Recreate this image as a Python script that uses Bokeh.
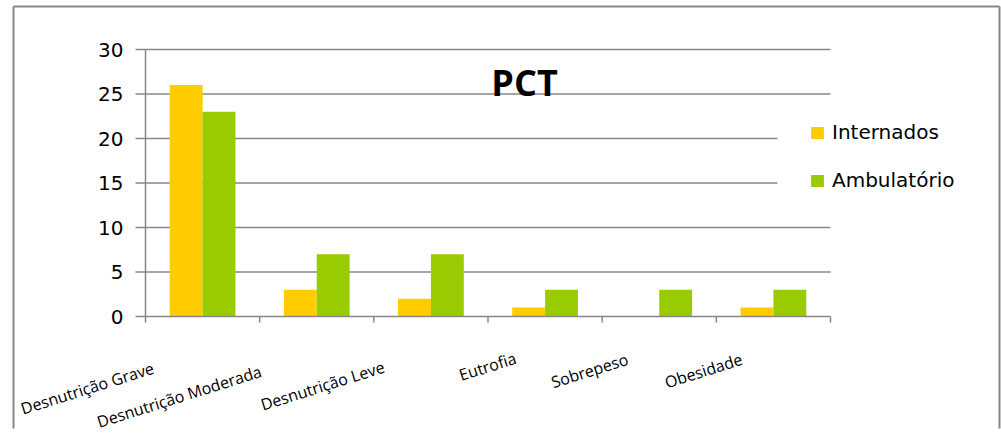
import math

from bokeh.core.properties import value
from bokeh.embed import file_html
from bokeh.models import (BoxAnnotation, ColumnDataSource, Label, LabelSet,
                          Legend, LegendItem, Range1d)
from bokeh.plotting import figure
from bokeh.resources import INLINE

# --- data -------------------------------------------------------------------
categories = ["Desnutrição Grave", "Desnutrição Moderada", "Desnutrição Leve",
              "Eutrofia", "Sobrepeso", "Obesidade"]
internados = [26, 3, 2, 1, 0, 1]
ambulatorio = [23, 7, 7, 3, 3, 3]
series_names = ["Internados", "Ambulatório"]
y_ticks = [0, 5, 10, 15, 20, 25, 30]
chart_title = "PCT"

# --- layout & styling ---------------------------------------------------------
W, H = 1001, 438
PLOT_L, PLOT_R, PLOT_T, PLOT_B = 145, 830, 49, 316   # plotting area in pixels
FONT = "Open Sans"
NUM_FONT = "DejaVu Sans"
GREY = "#878787"
YELLOW = "#FFCC00"
GREEN = "#99CC00"
BAR_W = 0.288

n = len(categories)
y_max = y_ticks[-1]
px_x = (PLOT_R - PLOT_L) / n          # pixels per category
px_y = (PLOT_B - PLOT_T) / y_max      # pixels per value unit


def cx(px):
    """canvas pixel column -> x data value"""
    return (px - PLOT_L) / px_x


def cy(py):
    """canvas pixel row -> y data value"""
    return (PLOT_B - py) / px_y


# the frame spans the whole canvas; ranges place the plotting area inside it
x_range = Range1d(cx(0), cx(W))
y_range = Range1d(cy(H), cy(0))

p = figure(width=W, height=H, x_range=x_range, y_range=y_range,
           output_backend="svg", toolbar_location=None, title=None,
           x_axis_location=None, y_axis_location=None, min_border=0)
p.outline_line_color = None
p.grid.visible = False
p.background_fill_color = "white"
p.border_fill_color = "white"

centers = [i + 0.5 for i in range(n)]

# outer chart frame: left, top and right sides
fl, fr, ft, fb = cx(13), cx(999), cy(6), cy(H - 10)
p.segment(x0=[fl, fl, fr], y0=[fb, ft, ft], x1=[fl, fr, fr], y1=[ft, ft, fb],
          line_color=GREY, line_width=2)

# horizontal gridlines
grid_vals = [t for t in y_ticks if t > 0]
p.segment(x0=[0] * len(grid_vals), x1=[n] * len(grid_vals),
          y0=grid_vals, y1=grid_vals, line_color=GREY, line_width=1.5)

# bars
src = ColumnDataSource(dict(
    x_int=[c - BAR_W / 2 for c in centers],
    x_amb=[c + BAR_W / 2 for c in centers],
    internados=internados,
    ambulatorio=ambulatorio,
))
r_int = p.vbar(x="x_int", top="internados", width=BAR_W, source=src,
               fill_color=YELLOW, line_color=None)
r_amb = p.vbar(x="x_amb", top="ambulatorio", width=BAR_W, source=src,
               fill_color=GREEN, line_color=None)

# value axis: line, outward ticks, labels
tick_y = 10 / px_x
p.segment(x0=[0], x1=[0], y0=[0], y1=[y_max], line_color=GREY, line_width=1.5)
p.segment(x0=[-tick_y] * len(y_ticks), x1=[0] * len(y_ticks),
          y0=y_ticks, y1=y_ticks, line_color=GREY, line_width=1.5)
p.add_layout(LabelSet(x="x", y="y", text="text",
                      source=ColumnDataSource(dict(
                          x=[0] * len(y_ticks), y=y_ticks,
                          text=[str(t) for t in y_ticks])),
                      x_offset=-22, text_align="right", text_baseline="middle",
                      text_font=value(NUM_FONT), text_font_size="20px",
                      text_color="black"))

# category axis: line and ticks at group boundaries
tick_x = 6 / px_y
bounds = list(range(n + 1))
p.segment(x0=[0], x1=[n], y0=[0], y1=[0], line_color=GREY, line_width=1.5)
p.segment(x0=bounds, x1=bounds, y0=[0] * len(bounds), y1=[-tick_x] * len(bounds),
          line_color=GREY, line_width=1.5)

# rotated category labels under each group
label_src = ColumnDataSource(dict(
    x=centers,
    y=[0] * n,
    text=categories,
    xo=[-(10 + 2.2 * len(c)) for c in categories],
    yo=[-(38 + 1.1 * len(c)) for c in categories],
))
p.add_layout(LabelSet(x="x", y="y", text="text", source=label_src,
                      x_offset="xo", y_offset="yo",
                      angle=math.radians(17.5), text_align="right",
                      text_baseline="alphabetic",
                      text_font=value(FONT), text_font_size="16px",
                      text_color="black"))

# legend background panel
p.add_layout(BoxAnnotation(left=777, right=PLOT_R + 4, top=104, bottom=212,
                           left_units="canvas", right_units="canvas",
                           top_units="canvas", bottom_units="canvas",
                           fill_color="white", fill_alpha=1, line_color=None))

legend = Legend(items=[LegendItem(label=series_names[0], renderers=[r_int]),
                       LegendItem(label=series_names[1], renderers=[r_amb])],
                location=(809, H - 192), orientation="vertical",
                glyph_width=16, glyph_height=15, label_standoff=7,
                label_height=15, spacing=24, padding=0, margin=0,
                background_fill_alpha=0, border_line_color=None,
                label_text_font=NUM_FONT, label_text_font_size="20px",
                label_text_color="black")
p.add_layout(legend, "center")

p.add_layout(Label(x=3.32, y=26.3, text=chart_title, text_align="center",
                   text_baseline="alphabetic", text_font=FONT,
                   text_font_size="36px", text_font_style="bold",
                   text_color="black"))

open("out.html", "w").write(file_html(p, INLINE))
